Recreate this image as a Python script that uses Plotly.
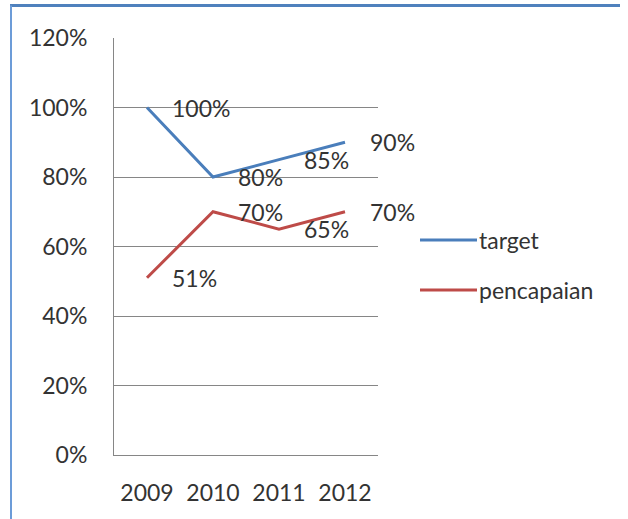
import plotly.graph_objects as go

years = ["2009", "2010", "2011", "2012"]
target = [1.00, 0.80, 0.85, 0.90]
pencapaian = [0.51, 0.70, 0.65, 0.70]
series_names = ["target", "pencapaian"]
y_ticks = [0, 0.2, 0.4, 0.6, 0.8, 1.0, 1.2]
y_tick_labels = ["0%", "20%", "40%", "60%", "80%", "100%", "120%"]

W, H = 628, 519
ML, MT = 114, 38
PW, PH = 264, 417
MR = W - ML - PW
MB = H - MT - PH

BLUE = "#4A7EBB"
RED = "#BE4B48"
GRID = "#868686"
TXT = "#333333"
FONT = "Lato"
FS = 23


def px2paper_x(px):
    return (px - ML) / PW


def px2paper_y(py):
    return (H - MB - py) / PH


fig = go.Figure()
colors = [BLUE, RED]
for name, vals, col in zip(series_names, [target, pencapaian], colors):
    fig.add_trace(go.Scatter(x=years, y=vals, mode="lines", name=name,
                             line=dict(color=col, width=3), showlegend=False,
                             hoverinfo="skip"))

annotations = []
for vals in (target, pencapaian):
    for i, yv in enumerate(vals):
        annotations.append(dict(x=i, y=yv, xref="x", yref="y",
                                text=f"{round(yv * 100)}%", showarrow=False,
                                xanchor="left", yanchor="middle", xshift=23, yshift=0,
                                font=dict(family=FONT, size=FS, color=TXT)))

shapes = [
    dict(type="line", xref="paper", yref="paper",
         x0=px2paper_x(10), x1=px2paper_x(620), y0=px2paper_y(5.5), y1=px2paper_y(5.5),
         line=dict(color="#4F81BD", width=3)),
    dict(type="line", xref="paper", yref="paper",
         x0=px2paper_x(11), x1=px2paper_x(11), y0=px2paper_y(5.5), y1=px2paper_y(519),
         line=dict(color="#6C9CD8", width=2)),
]

# manual legend (longer line samples, as in the reference)
legend_y = [240, 290]
for name, col, ly in zip(series_names, colors, legend_y):
    shapes.append(dict(type="line", xref="paper", yref="paper",
                       x0=px2paper_x(420), x1=px2paper_x(477),
                       y0=px2paper_y(ly), y1=px2paper_y(ly),
                       line=dict(color=col, width=3)))
    annotations.append(dict(x=px2paper_x(477), y=px2paper_y(ly), xref="paper", yref="paper",
                            text=name, showarrow=False, xanchor="left", yanchor="middle",
                            font=dict(family=FONT, size=FS, color=TXT)))

fig.update_layout(
    width=W, height=H,
    margin=dict(l=ML, r=MR, t=MT, b=MB, autoexpand=False),
    paper_bgcolor="white", plot_bgcolor="white",
    font=dict(family=FONT, size=FS, color=TXT),
    showlegend=False,
    annotations=annotations,
    shapes=shapes,
    xaxis=dict(type="category", range=[-0.5, 3.5], showgrid=False, zeroline=False,
               showline=True, linecolor=GRID, linewidth=1,
               ticks="", ticklabelstandoff=17,
               tickfont=dict(family=FONT, size=FS, color=TXT), fixedrange=True),
    yaxis=dict(range=[0, 1.2], tickvals=y_ticks, ticktext=y_tick_labels,
               showgrid=True, gridcolor=GRID, gridwidth=1, zeroline=False,
               showline=True, linecolor=GRID, linewidth=1,
               ticks="", ticklabelstandoff=21,
               tickfont=dict(family=FONT, size=FS, color=TXT), fixedrange=True),
)

fig.write_html("out.html", config={"displayModeBar": False},
               post_script="document.body.style.margin='0';document.body.style.overflow='hidden';")
